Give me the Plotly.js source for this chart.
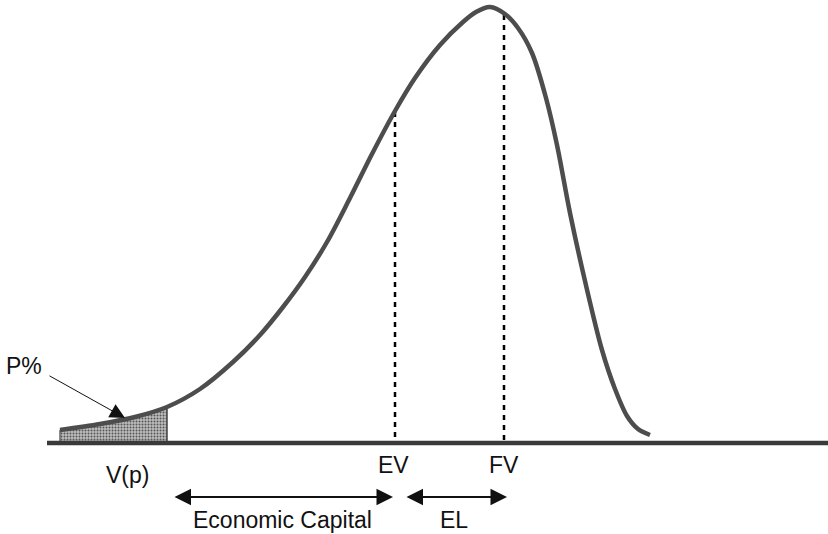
<!DOCTYPE html>
<html>
<head>
<meta charset="utf-8">
<script src="https://cdn.plot.ly/plotly-3.0.1.min.js"></script>
<style>html,body{margin:0;padding:0;background:#fff;}#chart{width:828px;height:534px;}</style>
</head>
<body>
<div id="chart"></div>
<script>
// Loss/value distribution curve (x position, density height above baseline)
const curveX = [60, 100, 135, 167, 200, 233, 260, 283, 305, 327, 350, 372, 395, 415, 440, 463, 476, 490, 505, 518, 532, 546, 557, 570, 585, 602, 615, 627, 638, 650];
const curveH = [13, 19, 26, 36, 54, 81, 108, 136, 166, 201, 245, 289, 332, 365, 398, 421, 431, 436, 429, 415, 390, 345, 298, 230, 162, 93, 54, 27, 14, 8];

// key positions on the value axis
const vpX = 167;
const evX = 395;
const fvX = 504;
const evH = 331;
const fvH = 428;
const baseStart = 47;
const baseEnd = 828;

const labels = ["P%", "V(p)", "EV", "FV", "Economic Capital", "EL"];

const shadeX = curveX.filter(x => x <= vpX);
const shadeH = curveH.slice(0, shadeX.length);

const font = {family: "Liberation Sans, Arial, sans-serif", size: 23, color: "#111"};

const traces = [
  {x: shadeX, y: shadeH, mode: "lines", line: {shape: "spline", smoothing: 0.8, width: 0, color: "rgba(0,0,0,0)"},
   fill: "tozeroy", fillcolor: "#a0a0a0",
   fillpattern: {shape: ".", bgcolor: "#bdbdbd", fgcolor: "#555", size: 3, solidity: 0.35},
   hoverinfo: "skip"},
  {x: [vpX, vpX], y: [0, shadeH[shadeH.length - 1]], mode: "lines", line: {color: "#444", width: 1.5}, hoverinfo: "skip"},
  {x: [shadeX[0], shadeX[0]], y: [0, shadeH[0]], mode: "lines", line: {color: "#666", width: 1.5}, hoverinfo: "skip"},
  {x: [evX, evX], y: [evH, 0], mode: "lines", line: {color: "#000", width: 2.5, dash: "5px,5px"}, hoverinfo: "skip"},
  {x: [fvX, fvX], y: [fvH, 0], mode: "lines", line: {color: "#000", width: 2.5, dash: "5px,5px"}, hoverinfo: "skip"},
  {x: curveX, y: curveH, mode: "lines", line: {shape: "spline", smoothing: 0.9, color: "#4d4d4d", width: 4.5}, hoverinfo: "skip"},
  {x: [baseStart, baseEnd], y: [0, 0], mode: "lines", line: {color: "#3a3a3a", width: 4.5}, hoverinfo: "skip"}
];

const arrowY = -54;
const labelY = -77;
const annotations = [
  {x: 24, y: 77, text: labels[0], showarrow: false, font: font},
  {x: 127, y: -32, text: labels[1], showarrow: false, font: font},
  {x: evX - 2, y: -22, text: labels[2], showarrow: false, font: font},
  {x: fvX, y: -22, text: labels[3], showarrow: false, font: font},
  {x: 282, y: labelY, text: labels[4], showarrow: false, font: font},
  {x: 454, y: labelY, text: labels[5], showarrow: false, font: font},
  // P% pointer
  {x: 125, y: 25, ax: 48, ay: 68, axref: "x", ayref: "y", xref: "x", yref: "y", text: "",
   showarrow: true, arrowhead: 2, arrowsize: 3, arrowwidth: 1, arrowcolor: "#111"},
  // Economic Capital double arrow
  {x: 393, y: arrowY, ax: 173, ay: arrowY, axref: "x", ayref: "y", xref: "x", yref: "y", text: "",
   showarrow: true, arrowhead: 2, startarrowhead: 2, arrowside: "end+start", arrowsize: 1.5, startarrowsize: 1.5, arrowwidth: 2.2, arrowcolor: "#111"},
  // EL double arrow
  {x: 507, y: arrowY, ax: 405, ay: arrowY, axref: "x", ayref: "y", xref: "x", yref: "y", text: "",
   showarrow: true, arrowhead: 2, startarrowhead: 2, arrowside: "end+start", arrowsize: 1.5, startarrowsize: 1.5, arrowwidth: 2.2, arrowcolor: "#111"}
];

const layout = {
  width: 828, height: 534,
  margin: {l: 0, r: 0, t: 0, b: 0},
  paper_bgcolor: "#fff", plot_bgcolor: "#fff",
  showlegend: false,
  xaxis: {range: [0, 828], visible: false, fixedrange: true},
  yaxis: {range: [-91, 443], visible: false, fixedrange: true},
  annotations: annotations
};

Plotly.newPlot("chart", traces, layout, {staticPlot: true, displayModeBar: false});
</script>
</body>
</html>
